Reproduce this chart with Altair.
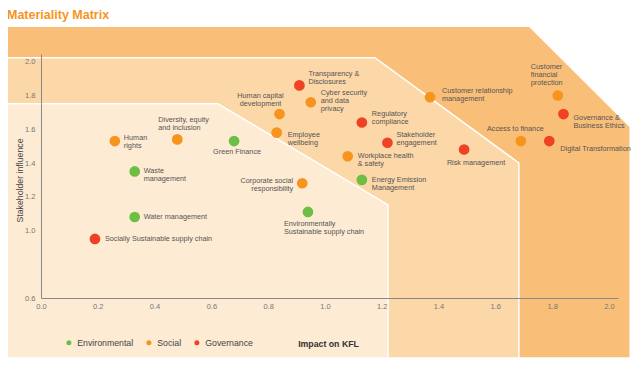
import altair as alt
import pandas as pd

FONT = "Liberation Sans"

TITLE = "Materiality Matrix"
X_TITLE = "Impact on KFL"
Y_TITLE = "Stakeholder influence"

CATEGORIES = ["Environmental", "Social", "Governance"]
CAT_COLORS = ["#6DBE45", "#F7941D", "#EF4123"]

TOPICS = [
    "Transparency & Disclosures", "Cyber security and data privacy", "Human capital development",
    "Employee wellbeing", "Regulatory compliance", "Stakeholder engagement",
    "Workplace health & safety", "Energy Emission Management", "Risk management",
    "Access to finance", "Digital Transformation", "Governance & Business Ethics",
    "Customer financial protection", "Customer relationship management", "Human rights",
    "Diversity, equity and inclusion", "Green Finance", "Waste management",
    "Corporate social responsibility", "Water management",
    "Environmentally Sustainable supply chain", "Socially Sustainable supply chain",
]
TOPIC_LABELS = [
    "Transparency &\nDisclosures", "Cyber security\nand data\nprivacy", "Human capital\ndevelopment",
    "Employee\nwellbeing", "Regulatory\ncompliance", "Stakeholder\nengagement",
    "Workplace health\n& safety", "Energy Emission\nManagement", "Risk management",
    "Access to finance", "Digital Transformation", "Governance &\nBusiness Ethics",
    "Customer\nfinancial\nprotection", "Customer relationship\nmanagement", "Human\nrights",
    "Diversity, equity\nand inclusion", "Green Finance", "Waste\nmanagement",
    "Corporate social\nresponsibility", "Water management",
    "Environmentally\nSustainable supply chain", "Socially Sustainable supply chain",
]
TOPIC_CATEGORY = [
    "Governance", "Social", "Social", "Social", "Governance", "Governance",
    "Social", "Environmental", "Governance", "Social", "Governance", "Governance",
    "Social", "Social", "Social", "Social", "Environmental", "Environmental",
    "Social", "Environmental", "Environmental", "Governance",
]
IMPACT = [0.91, 0.95, 0.84, 0.83, 1.13, 1.22, 1.08, 1.13, 1.49, 1.69, 1.79, 1.84,
          1.82, 1.37, 0.26, 0.48, 0.68, 0.33, 0.92, 0.33, 0.94, 0.19]
INFLUENCE = [1.86, 1.76, 1.69, 1.58, 1.64, 1.52, 1.44, 1.30, 1.48, 1.53, 1.53, 1.69,
             1.80, 1.79, 1.53, 1.54, 1.53, 1.35, 1.28, 1.08, 1.11, 0.95]

X_TICKS = [0.0, 0.2, 0.4, 0.6, 0.8, 1.0, 1.2, 1.4, 1.6, 1.8, 2.0]
Y_TICKS = [0.6, 1.0, 1.2, 1.4, 1.6, 1.8, 2.0]

# background priority zones (outline in data units)
ZONES = ["outer", "middle", "inner"]
ZONE_COLORS = ["#F9BF78", "#FCD7A8", "#FDEBD4"]
ZONE_X = {"outer": [-0.13, 1.72, 2.075], "middle": [-0.13, 1.176, 1.683], "inner": [-0.13, 0.623, 1.222]}
ZONE_TOP = {"outer": [2.21, 2.21, 1.615], "middle": [2.024, 2.024, 1.40], "inner": [1.751, 1.751, 1.152]}
ZONE_BASE = 0.245

# label placement: (align, dx, dy of first line)
LABEL_LAYOUT = {
    "Transparency & Disclosures": ("left", 9, -11),
    "Cyber security and data privacy": ("left", 10, -9),
    "Human capital development": ("center", -19, -18),
    "Employee wellbeing": ("left", 11, 2),
    "Regulatory compliance": ("left", 10, -9),
    "Stakeholder engagement": ("left", 9, -8),
    "Workplace health & safety": ("left", 10, 0),
    "Energy Emission Management": ("left", 10, 0),
    "Risk management": ("center", 12, 13),
    "Access to finance": ("center", -5.5, -12),
    "Digital Transformation": ("left", 11, 8),
    "Governance & Business Ethics": ("left", 10, 4),
    "Customer financial protection": ("left", -27, -29),
    "Customer relationship management": ("left", 12, -6),
    "Human rights": ("left", 9, -3),
    "Diversity, equity and inclusion": ("left", -19, -19),
    "Green Finance": ("center", 3, 11),
    "Waste management": ("left", 9, 0),
    "Corporate social responsibility": ("right", -9, -2),
    "Water management": ("left", 9, 0),
    "Environmentally Sustainable supply chain": ("left", -24, 12),
    "Socially Sustainable supply chain": ("left", 10, 0),
}
LINE_H = 8

points = pd.DataFrame({
    "topic": TOPICS, "label": TOPIC_LABELS, "category": TOPIC_CATEGORY,
    "impact": IMPACT, "influence": INFLUENCE,
})

zone_rows = []
for z in ZONES:
    for xv, tv in zip(ZONE_X[z], ZONE_TOP[z]):
        zone_rows.append({"zone": z, "impact": xv, "influence": tv, "base": ZONE_BASE})
zones = pd.DataFrame(zone_rows)


def x_enc():
    return alt.X("impact:Q",
                 scale=alt.Scale(domain=[0, 2.032], nice=False, zero=False),
                 axis=alt.Axis(values=X_TICKS, format=".1f", ticks=False, grid=False,
                               zindex=2,
                               domainColor="#888888", domainWidth=1, labelFlush=False,
                               labelColor="#777777", labelFontSize=7.5, labelFont=FONT,
                               labelPadding=4, title=X_TITLE, titleX=287, titleY=45,
                               titleAlign="center", titleBaseline="middle",
                               titleFontWeight="bold", titleFontSize=8.75,
                               titleFont=FONT, titleColor="#333333"))


def y_enc():
    return alt.Y("influence:Q",
                 scale=alt.Scale(domain=[0.6, 2.046], nice=False, zero=False),
                 axis=alt.Axis(values=Y_TICKS, format=".1f", ticks=False, grid=False,
                               zindex=2,
                               domainColor="#888888", domainWidth=1, labelFlush=False,
                               labelColor="#777777", labelFontSize=7.5, labelFont=FONT,
                               labelPadding=6, title=Y_TITLE, titleX=-22, titleY=126,
                               titleAngle=270, titleAlign="center", titleBaseline="middle",
                               titleFontWeight="normal", titleFontSize=8.75,
                               titleFont=FONT, titleColor="#444444"))


layers = []
for z, col in zip(ZONES, ZONE_COLORS):
    layers.append(
        alt.Chart(zones).transform_filter(alt.datum.zone == z)
        .mark_area(color=col, fillOpacity=1, stroke="white", strokeWidth=1.5, clip=False)
        .encode(x=x_enc(), y=y_enc(), y2=alt.Y2("base:Q"))
    )

layers.append(
    alt.Chart(points).mark_circle(size=115, opacity=1).encode(
        x=x_enc(), y=y_enc(),
        color=alt.Color("category:N",
                        scale=alt.Scale(domain=CATEGORIES, range=CAT_COLORS),
                        legend=alt.Legend(orient="none", legendX=23.5, legendY=284,
                                          direction="horizontal", title=None,
                                          symbolType="circle", symbolSize=25,
                                          symbolStrokeWidth=0, symbolOpacity=1,
                                          labelFontSize=8.75, labelColor="#444444",
                                          labelFont=FONT, columnPadding=11,
                                          labelOffset=4, padding=0)),
    )
)

for topic in TOPICS:
    align, dx, dy = LABEL_LAYOUT[topic]
    layers.append(
        alt.Chart(points).transform_filter(alt.datum.topic == topic)
        .mark_text(align=align, baseline="middle", dx=dx, dy=dy,
                   lineBreak="\n", lineHeight=LINE_H, font=FONT, fontSize=7.25,
                   color="#555555")
        .encode(x=x_enc(), y=y_enc(), text="label:N")
    )

layers.append(
    alt.Chart(pd.DataFrame({"t": [TITLE]}))
    .mark_text(align="left", baseline="middle", font=FONT, fontSize=12.5,
               fontWeight="bold", color="#F7941D")
    .encode(x=alt.value(-34), y=alt.value(-39), text="t:N")
)

chart = (
    alt.layer(*layers)
    .properties(width=577, height=244,
                autosize=alt.AutoSizeParams(type="none"),
                padding={"left": 33, "top": 46, "right": 14, "bottom": 60})
    .configure_view(strokeOpacity=0)
)

chart.save("out.html", embed_options={"renderer": "svg", "actions": False})
